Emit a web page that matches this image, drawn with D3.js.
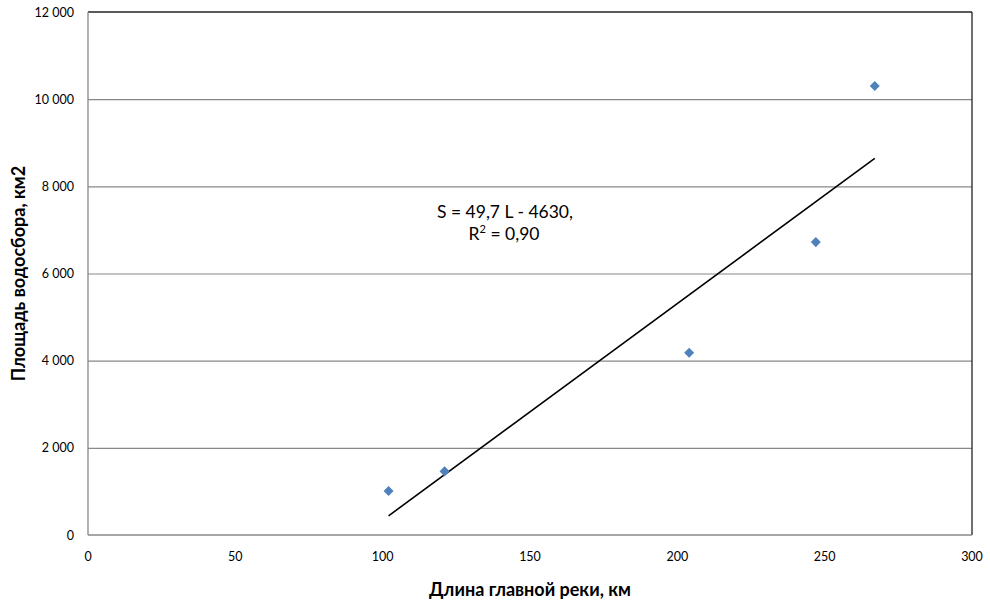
<!DOCTYPE html>
<html>
<head>
<meta charset="utf-8">
<script src="https://cdn.jsdelivr.net/npm/d3@7"></script>
<style>
  body { margin: 0; background: #fff; }
  text { font-family: Lato, "Open Sans", sans-serif; fill: #000; }
</style>
</head>
<body>
<div id="chart"></div>
<script>
// river length (km) and catchment area (km2)
var lengths = [102, 121, 204, 247, 267];
var areas = [1010, 1460, 4180, 6720, 10300];
// trend line end points as drawn
var trendL = [102, 267];
var trendS = [440, 8640];
var xTicks = [0, 50, 100, 150, 200, 250, 300];
var yTicks = [0, 2000, 4000, 6000, 8000, 10000, 12000];
var eqLines = ["S = 49,7 L - 4630,", "R2 = 0,90"];

var width = 990, height = 601;
var margin = {top: 12, right: 18, bottom: 66, left: 88};

var svg = d3.select("#chart").append("svg")
    .attr("width", width)
    .attr("height", height);

var x = d3.scaleLinear().domain([0, 300]).range([margin.left, width - margin.right]);
var y = d3.scaleLinear().domain([0, 12000]).range([height - margin.bottom, margin.top]);

var fmt = function(d) { return d3.format(",")(d).replace(/,/g, " "); };

// gridlines
svg.append("g")
  .selectAll("line")
  .data(yTicks.slice(1, -1))
  .enter().append("line")
  .attr("x1", x(0)).attr("x2", x(300))
  .attr("y1", function(d) { return y(d) + 0.5; })
  .attr("y2", function(d) { return y(d) + 0.5; })
  .attr("stroke", "#888").attr("stroke-width", 1.2);

// plot border: top/right dark, left/bottom grey
svg.append("line").attr("x1", x(0)).attr("x2", x(300)).attr("y1", y(12000)).attr("y2", y(12000))
  .attr("stroke", "#222").attr("stroke-width", 1.3);
svg.append("line").attr("x1", x(300)).attr("x2", x(300)).attr("y1", y(12000)).attr("y2", y(0))
  .attr("stroke", "#222").attr("stroke-width", 1.3);
svg.append("line").attr("x1", x(0)).attr("x2", x(0)).attr("y1", y(12000)).attr("y2", y(0))
  .attr("stroke", "#888").attr("stroke-width", 1.3);
svg.append("line").attr("x1", x(0)).attr("x2", x(300)).attr("y1", y(0)).attr("y2", y(0))
  .attr("stroke", "#888").attr("stroke-width", 1.3);

// axis labels
svg.append("g").selectAll("text")
  .data(yTicks)
  .enter().append("text")
  .attr("x", 74)
  .attr("y", function(d) { return y(d); })
  .attr("dy", "0.36em")
  .attr("text-anchor", "end")
  .style("font-size", "12.5px")
  .text(fmt);

svg.append("g").selectAll("text")
  .data(xTicks)
  .enter().append("text")
  .attr("x", function(d) { return x(d); })
  .attr("y", 561)
  .attr("text-anchor", "middle")
  .style("font-size", "12.5px")
  .text(function(d) { return d; });

svg.append("text")
  .attr("x", (x(0) + x(300)) / 2).attr("y", 596)
  .attr("text-anchor", "middle")
  .style("font-size", "18px").style("font-weight", "bold")
  .text("Длина главной реки, км");

svg.append("text")
  .attr("transform", "translate(25," + ((y(0) + y(12000)) / 2) + ") rotate(-90)")
  .attr("text-anchor", "middle")
  .style("font-size", "18px").style("font-weight", "bold")
  .text("Площадь водосбора, км2");

// trend line
svg.append("line")
  .attr("x1", x(trendL[0])).attr("y1", y(trendS[0]))
  .attr("x2", x(trendL[1])).attr("y2", y(trendS[1]))
  .attr("stroke", "#000").attr("stroke-width", 1.6);

// points
svg.append("g").selectAll("path")
  .data(lengths)
  .enter().append("path")
  .attr("d", d3.symbol().type(d3.symbolDiamond2).size(64))
  .attr("transform", function(d, i) { return "translate(" + x(d) + "," + y(areas[i]) + ")"; })
  .attr("fill", "#4F81BD");

// equation label
var eq = svg.append("g").style("font-size", "17.5px").attr("text-anchor", "middle");
eq.append("text").attr("x", 505).attr("y", 218).text(eqLines[0]);
var r2 = eq.append("text").attr("x", 504).attr("y", 240);
r2.append("tspan").text("R");
r2.append("tspan").attr("dy", -7).style("font-size", "11px").text("2");
r2.append("tspan").attr("dy", 7).text(" = 0,90");
</script>
</body>
</html>
